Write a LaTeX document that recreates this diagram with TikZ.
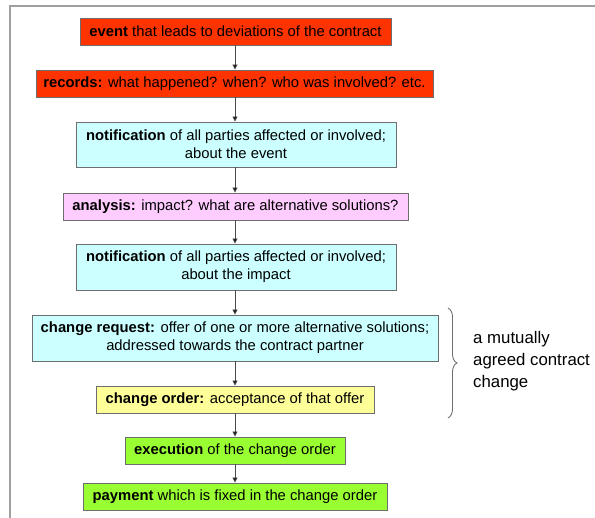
\documentclass[tikz,border=0pt]{standalone}
\usepackage{fontspec}
\setmainfont{Liberation Sans}
\usetikzlibrary{arrows.meta,decorations.pathreplacing}

\definecolor{evred}{HTML}{FF3300}
\definecolor{notecyan}{HTML}{CCFFFF}
\definecolor{anapink}{HTML}{FFCCFF}
\definecolor{ordyellow}{HTML}{FFFF99}
\definecolor{paygreen}{HTML}{99FF33}
\definecolor{edgegray}{HTML}{6E6E6E}
\definecolor{arrowgray}{HTML}{4A4A4A}
\definecolor{framegray}{HTML}{A0A0A0}

\tikzset{
  flowbox/.style={draw=edgegray, line width=0.9pt, inner sep=0pt, align=center,
    font=\fontsize{14.8}{18}\selectfont, text=black},
  arr/.style={draw=arrowgray, line width=0.9pt,
    -{Triangle[length=5pt,width=5pt,fill=black]}},
  sidetext/.style={font=\fontsize{16.8}{22}\selectfont, align=left, anchor=west, inner sep=0pt}
}

\begin{document}
\begin{tikzpicture}[x=1pt,y=-1pt]
  \useasboundingbox (0,0) rectangle (595,518);
  % frame lines along the top and left edges
  \draw[framegray, line width=1.5pt] (10,518) -- (10,6) -- (595,6);

  \node[flowbox, fill=evred, minimum width=311pt, minimum height=27pt] (event) at (235.5,31.5)
    {\textbf{event} that leads to deviations of the contract};
  \node[flowbox, fill=evred, minimum width=397pt, minimum height=27pt] (records) at (234.5,83.5)
    {\textbf{records:} what happened? when? who was involved? etc.};
  \node[flowbox, fill=notecyan, minimum width=320pt, minimum height=45pt] (notev) at (236,144.5)
    {\textbf{notification} of all parties affected or involved;\\about the event};
  \node[flowbox, fill=anapink, minimum width=345pt, minimum height=27pt] (analysis) at (235.5,206.5)
    {\textbf{analysis:} impact? what are alternative solutions?};
  \node[flowbox, fill=notecyan, minimum width=320pt, minimum height=46pt] (notimp) at (236,267)
    {\textbf{notification} of all parties affected or involved;\\about the impact};
  \node[flowbox, fill=notecyan, minimum width=406pt, minimum height=46pt] (request) at (235,338)
    {\textbf{change request:} offer of one or more alternative solutions;\\addressed towards the contract partner};
  \node[flowbox, fill=ordyellow, minimum width=278pt, minimum height=27pt] (order) at (235,399.5)
    {\textbf{change order:} acceptance of that offer};
  \node[flowbox, fill=paygreen, minimum width=220pt, minimum height=27pt] (exec) at (235,450.5)
    {\textbf{execution} of the change order};
  \node[flowbox, fill=paygreen, minimum width=304pt, minimum height=27pt] (pay) at (235,496.5)
    {\textbf{payment} which is fixed in the change order};

  \draw[arr] (event.south -| 235,0) -- (records.north -| 235,0);
  \draw[arr] (records.south -| 235,0) -- (notev.north -| 235,0);
  \draw[arr] (notev.south -| 235,0) -- (analysis.north -| 235,0);
  \draw[arr] (analysis.south -| 235,0) -- (notimp.north -| 235,0);
  \draw[arr] (notimp.south -| 235,0) -- (request.north -| 235,0);
  \draw[arr] (request) -- (order);
  \draw[arr] (order) -- (exec);
  \draw[arr] (exec) -- (pay);

  % brace grouping the request and the order
  \coordinate (braceTop) at (448,308);
  \coordinate (braceBot) at (448,418);
  \draw[edgegray, line width=0.9pt, decorate, decoration={brace, amplitude=9pt}]
    (braceTop) -- (braceBot);
  \node[sidetext] (agreed) at (473,361)
    {a mutually\\agreed contract\\change};
\end{tikzpicture}
\end{document}
